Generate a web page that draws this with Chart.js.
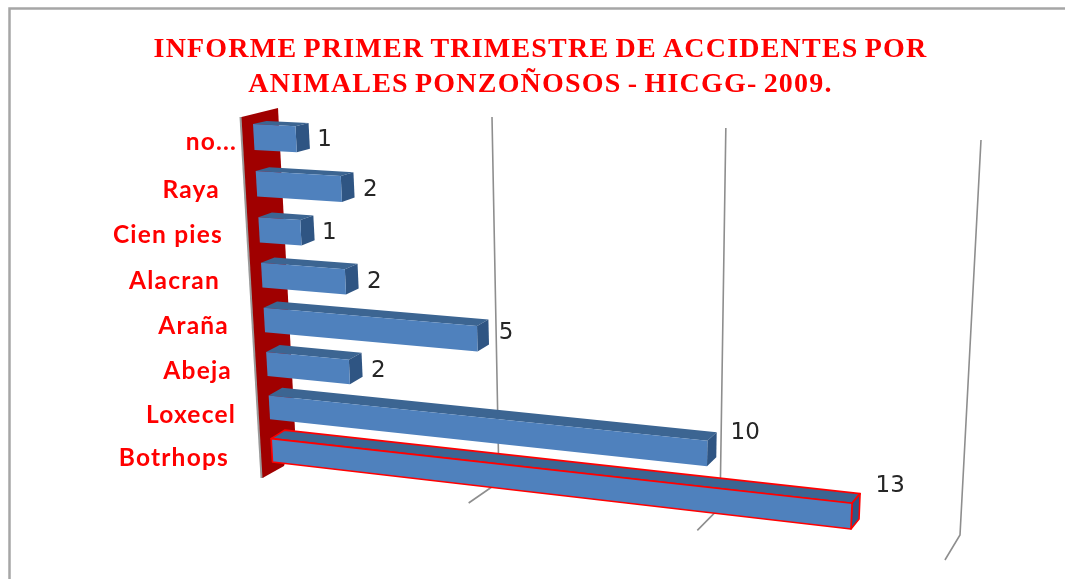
<!DOCTYPE html>
<html><head><meta charset="utf-8">
<style>html,body{margin:0;padding:0;background:#fff}canvas{display:block;filter:blur(0.7px)}</style>
<script src="https://cdn.jsdelivr.net/npm/chart.js@4"></script>
</head><body><canvas id="c" width="1065" height="579"></canvas>
<script>
const titleLines = ["INFORME PRIMER TRIMESTRE DE ACCIDENTES POR", "ANIMALES PONZOÑOSOS - HICGG- 2009."];
const categories = ["no...", "Raya", "Cien pies", "Alacran", "Araña", "Abeja", "Loxecel", "Botrhops"];
const values = [1, 2, 1, 2, 5, 2, 10, 13];
const gridTicks = [5, 10, 15];

function quad(p00, p10, p11, p01) {
  const [x0,y0]=p00,[x1,y1]=p10,[x2,y2]=p11,[x3,y3]=p01;
  const dx1=x1-x2,dx2=x3-x2,sx=x0-x1+x2-x3,dy1=y1-y2,dy2=y3-y2,sy=y0-y1+y2-y3;
  const den=dx1*dy2-dx2*dy1, g=(sx*dy2-dx2*sy)/den, h=(dx1*sy-sx*dy1)/den;
  const a=x1-x0+g*x1,b=x3-x0+h*x3,d=y1-y0+g*y1,e=y3-y0+h*y3;
  return (u,v)=>{const w=g*u+h*v+1;return [(a*u+b*v+x0)/w,(d*u+e*v+y0)/w];};
}
const frontQuad = quad([253,124],[866,155],[851,529],[272.5,462]);
const wallQuad  = quad([492,117],[981,140],[960,535],[499,482]);
const FRONT_MAX = 13, GRID_MAX = 15, GRID_FIRST = 5;
const C = {front:'#4f81bd', top:'#3c6592', end:'#2f5583', wall:'#a00000', grid:'#8e8e8e', red:'#ff0000', frame:'#a6a6a6', num:'#262626'};
const labelRight = [237,220,223,220,229,232,236,229];
const labelMidY  = [142,190,235,281,326,371,415,458];
const numOffset  = [[8,1],[9,1],[8,0],[9,0],[10,-6],[9,-1],[14,-21],[16,-30]];

let project = null;
function setProjection(chart){
  const xs=chart.scales.x, ys=chart.scales.y;
  const bar=chart.getDatasetMeta(0).data[0];
  const t=ys.getPixelForValue(0)-bar.height/2, b=ys.getPixelForValue(categories.length-1)+bar.height/2;
  project=(px,py)=>frontQuad(xs.getValueForPixel(px)/FRONT_MAX,(py-t)/(b-t));
}
function poly(ctx,pts,fill,stroke,lw){
  ctx.beginPath();pts.forEach((p,i)=>i?ctx.lineTo(p[0],p[1]):ctx.moveTo(p[0],p[1]));ctx.closePath();
  ctx.fillStyle=fill;ctx.fill();
  if(stroke&&lw){ctx.strokeStyle=stroke;ctx.lineWidth=lw;ctx.lineJoin='round';ctx.stroke();}
}
function depth(p,val){
  return [p[0]+13.5-0.42*val, p[1]-3-(p[1]-124)/400*7];
}
Chart.BarElement.prototype.draw=function(ctx){
  const o=this.options, top=this.y-this.height/2, bot=this.y+this.height/2;
  const chart=this.$context.chart, val=chart.scales.x.getValueForPixel(this.x);
  const a=project(this.base,top),b=project(this.x,top),c=project(this.x,bot),d=project(this.base,bot);
  const a2=depth(a,0),b2=depth(b,val),c2=depth(c,val);
  const bc=o.borderColor,lw=o.borderWidth;
  ctx.save();
  poly(ctx,[a,b,b2,a2],C.top,bc,lw);
  poly(ctx,[b,c,c2,b2],C.end,bc,lw);
  poly(ctx,[a,b,c,d],o.backgroundColor,bc,lw);
  ctx.restore();
};

const scene={
  id:'scene',
  beforeDraw(chart){
    const ctx=chart.ctx;
    ctx.save();ctx.fillStyle='#fff';ctx.fillRect(0,0,1065,579);
    ctx.strokeStyle=C.frame;ctx.lineWidth=2.5;
    ctx.beginPath();ctx.moveTo(9.5,579);ctx.lineTo(9.5,8.5);ctx.lineTo(1065,8.5);ctx.stroke();
    ctx.restore();
    ctx.letterSpacing='1.2px';ctx.wordSpacing='-2px';
  },
  beforeDatasetsDraw(chart){
    setProjection(chart);
    const ctx=chart.ctx;
    ctx.letterSpacing='0px';ctx.wordSpacing='0px';
    ctx.save();
    ctx.strokeStyle=C.grid;ctx.lineWidth=1.6;
    gridTicks.forEach(t=>{
      const p=wallQuad((t-GRID_FIRST)/(GRID_MAX-GRID_FIRST),0),q=wallQuad((t-GRID_FIRST)/(GRID_MAX-GRID_FIRST),1);
      ctx.beginPath();ctx.moveTo(p[0],p[1]);ctx.lineTo(q[0],q[1]);
      ctx.lineTo(q[0]-38+1.53*t,q[1]+19+0.4*t);ctx.stroke();
    });
    ctx.beginPath();ctx.moveTo(241,117);ctx.lineTo(262,478);ctx.strokeStyle='#9a9a9a';ctx.lineWidth=3;ctx.stroke();
    poly(ctx,[[241.5,117],[278,108],[295,430],[284,466],[262.5,478]],C.wall);
    ctx.fillStyle='#ff0000';ctx.font='bold 24.5px Lato';ctx.textAlign='right';ctx.textBaseline='middle';
    ctx.letterSpacing='1.2px';
    categories.forEach((c,i)=>ctx.fillText(c,labelRight[i],labelMidY[i]));
    ctx.letterSpacing='0px';
    ctx.restore();
  },
  afterDatasetsDraw(chart){
    const ctx=chart.ctx,els=chart.getDatasetMeta(0).data;
    ctx.save();ctx.fillStyle=C.num;ctx.font='23px "DejaVu Sans"';ctx.textAlign='left';ctx.textBaseline='middle';
    values.forEach((v,i)=>{
      const el=els[i],p=project(el.x,el.y),e=depth(p,v);
      ctx.fillText(String(v),e[0]+numOffset[i][0],p[1]+numOffset[i][1]);
    });
    ctx.restore();
  }
};

new Chart(document.getElementById('c'),{
  type:'bar',
  data:{labels:categories,datasets:[{data:values,
    backgroundColor:C.front,
    borderColor:categories.map((c,i)=>i===7?C.red:C.front),
    borderWidth:categories.map((c,i)=>i===7?1.6:0),
    barPercentage:0.55,categoryPercentage:1}]},
  plugins:[scene],
  options:{
    indexAxis:'y',responsive:false,animation:false,
    layout:{padding:{left:16,right:0,top:0,bottom:0}},
    scales:{
      x:{min:0,max:GRID_MAX,display:false},
      y:{display:false}
    },
    plugins:{
      legend:{display:false},tooltip:{enabled:false},
      title:{display:true,text:titleLines,color:'#ff0000',
        font:{family:'"Liberation Serif"',size:28,weight:'bold',lineHeight:1.25},
        padding:{top:32,bottom:10}}
    }
  }
});
</script></body></html>
